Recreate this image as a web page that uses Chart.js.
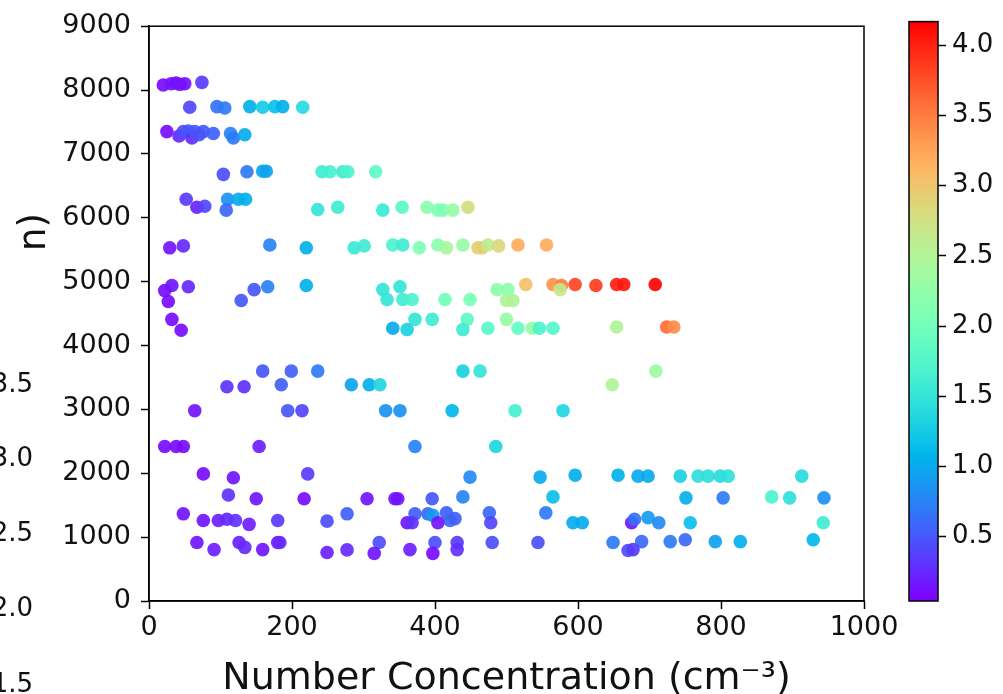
<!DOCTYPE html>
<html lang="en">
<head>
  <meta charset="UTF-8">
  <title>Number Concentration</title>
  <style>
    body {
      margin: 0;
      background: #fff;
      font-family: "DejaVu Sans", sans-serif;
    }
    #wrap {
      position: relative;
      width: 1003px;
      height: 694px;
      overflow: hidden;
    }
    canvas {
      position: absolute;
      top: 0;
    }
    .side {
      position: absolute;
      right: 970px;
      font-size: 26px;
      line-height: 26px;
      color: #111;
      white-space: nowrap;
    }
    #ylab {
      position: absolute;
      left: 32px;
      top: 232px;
      font-size: 37px;
      line-height: 37px;
      color: #111;
      transform: translate(-50%, -50%) rotate(-90deg);
      white-space: nowrap;
    }
  </style>
</head>
<body>
  <div id="wrap">
    <canvas id="main" width="1003" height="694" style="left:0"></canvas>
    <canvas id="cbar" width="123" height="694" style="left:880px"></canvas>
    <div id="ylab">n)</div>
    <div class="side" style="top:370px">3.5</div>
    <div class="side" style="top:444px">3.0</div>
    <div class="side" style="top:519px">2.5</div>
    <div class="side" style="top:594px">2.0</div>
    <div class="side" style="top:670px">1.5</div>
  </div>

  <script src="https://cdn.jsdelivr.net/npm/chart.js"></script>
  <script>
    // number concentration (cm^-3), height and colour value for each sample
    const numConc = [
      20, 31, 38, 43, 50, 74,
      57, 95, 106, 141, 159, 176, 187, 215,
      25, 42, 48, 55, 60, 64, 70, 76, 90, 114, 118, 134,
      104, 137, 159, 164, 242, 253, 271, 278, 317,
      52, 110, 125, 135, 67, 78, 108, 236, 264, 327, 354, 389, 404, 411, 425, 446,
      29, 48, 169, 220, 287, 301, 341, 355, 378, 404, 416, 439, 460, 466, 474, 489, 516, 556,
      22, 32, 55, 129, 147, 166, 220, 327, 351, 487, 502, 527, 565, 577, 575, 596, 625, 654, 664, 708,
      27, 333, 355, 368, 414, 449, 500, 509,
      32, 372, 396, 445, 500,
      45, 341, 361, 439, 474, 516, 536, 546, 565, 654, 724, 734,
      159, 199, 236, 439, 463, 709,
      109, 133, 185, 283, 308, 323, 648,
      64, 194, 214, 331, 351, 424, 512, 579,
      22, 38, 48, 154, 372, 485,
      76, 118, 222, 449, 547, 596, 656, 684, 698, 743, 768, 782, 799, 810, 913,
      111, 150, 217, 305, 344, 348, 396, 439, 565, 751, 803, 871, 896, 944,
      48, 76, 97, 109, 121, 140, 180, 249, 277, 372, 390, 397, 416, 421, 428, 476, 555,
      361, 368, 404, 478, 593, 606, 675, 679, 698, 713, 757, 943,
      67, 126, 180, 183, 322, 400, 431, 480, 544, 649, 689, 729, 750, 792, 827, 929,
      91, 134, 159, 249, 277, 315, 365, 397, 431, 670, 677
    ];
    const heightM = [
      8080, 8100, 8110, 8090, 8100, 8120,
      7730, 7740, 7720, 7740, 7730, 7740, 7740, 7730,
      7350, 7280, 7350, 7360, 7250, 7350, 7300, 7350, 7320, 7320, 7250, 7300,
      6680, 6720, 6730, 6730, 6720, 6720, 6720, 6720, 6720,
      6290, 6290, 6290, 6290, 6165, 6180, 6120, 6130, 6165, 6120, 6165, 6165, 6120, 6120, 6120, 6165,
      5530, 5560, 5575, 5530, 5530, 5560, 5575, 5575, 5530, 5575, 5530, 5575, 5530, 5530, 5575, 5560, 5575, 5575,
      4860, 4940, 4920, 4705, 4875, 4920, 4940, 4875, 4920, 4875, 4875, 4955, 4955, 4940, 4875, 4955, 4940, 4955, 4955, 4955,
      4690, 4720, 4720, 4720, 4720, 4720, 4705, 4705,
      4410, 4410, 4410, 4410, 4410,
      4240, 4270, 4250, 4250, 4270, 4270, 4270, 4270, 4270, 4290, 4290, 4290,
      3600, 3600, 3600, 3600, 3600, 3600,
      3355, 3355, 3385, 3385, 3385, 3385, 3385,
      2980, 2980, 2980, 2980, 2980, 2980, 2980, 2980,
      2420, 2420, 2420, 2420, 2420, 2420,
      1990, 1930, 1990, 1940, 1940, 1970, 1970, 1955, 1955, 1955, 1955, 1955, 1955, 1955, 1955,
      1660, 1600, 1600, 1600, 1600, 1600, 1600, 1630, 1630, 1615, 1615, 1630, 1615, 1615,
      1365, 1260, 1260, 1280, 1260, 1200, 1260, 1250, 1365, 1365, 1365, 1340, 1380, 1260, 1290, 1380, 1380,
      1225, 1225, 1225, 1225, 1225, 1225, 1225, 1280, 1305, 1225, 1225, 1225,
      915, 915, 915, 915, 915, 915, 915, 915, 915, 915, 930, 930, 960, 930, 930, 960,
      805, 840, 805, 760, 800, 745, 805, 745, 805, 790, 805
    ];
    const colorVal = [
      0.10, 0.15, 0.10, 0.15, 0.12, 0.35,
      0.40, 0.65, 0.70, 1.05, 1.25, 1.15, 1.05, 1.40,
      0.10, 0.25, 0.45, 0.50, 0.30, 0.50, 0.45, 0.50, 0.55, 0.75, 0.70, 1.00,
      0.45, 0.70, 0.95, 0.95, 1.60, 1.65, 1.60, 1.70, 1.85,
      0.35, 0.85, 1.00, 1.05, 0.20, 0.40, 0.60, 1.50, 1.60, 1.55, 1.80, 2.20, 2.10, 2.10, 2.30, 2.80,
      0.15, 0.25, 0.75, 1.05, 1.55, 1.60, 1.70, 1.60, 2.10, 2.20, 2.40, 2.30, 2.90, 2.95, 2.60, 2.85, 3.20, 3.20,
      0.10, 0.15, 0.25, 0.50, 0.50, 0.75, 1.05, 1.50, 1.50, 2.20, 2.20, 3.05, 3.35, 3.50, 2.65, 3.80, 3.85, 4.00, 4.05, 4.15,
      0.10, 1.50, 1.60, 1.70, 2.00, 2.05, 2.50, 2.50,
      0.10, 1.50, 1.60, 1.85, 2.30,
      0.10, 1.00, 1.30, 1.60, 1.80, 1.90, 2.30, 1.70, 1.75, 2.50, 3.60, 3.40,
      0.50, 0.55, 0.70, 1.30, 1.50, 2.35,
      0.30, 0.30, 0.55, 0.95, 1.05, 1.35, 2.50,
      0.15, 0.50, 0.40, 0.85, 0.85, 1.10, 1.65, 1.35,
      0.10, 0.10, 0.10, 0.20, 0.75, 1.35,
      0.10, 0.15, 0.35, 0.80, 1.00, 1.05, 1.05, 1.00, 1.00, 1.30, 1.45, 1.45, 1.40, 1.45, 1.40,
      0.30, 0.15, 0.10, 0.15, 0.15, 0.15, 0.50, 0.75, 1.15, 1.05, 0.70, 1.70, 1.45, 0.85,
      0.15, 0.15, 0.20, 0.25, 0.30, 0.20, 0.35, 0.45, 0.55, 0.55, 0.60, 0.90, 0.55, 0.60, 0.55, 0.60, 0.70,
      0.15, 0.30, 0.15, 0.40, 1.00, 1.00, 0.15, 0.65, 0.90, 0.80, 1.15, 1.60,
      0.15, 0.20, 0.20, 0.25, 0.45, 0.45, 0.35, 0.45, 0.45, 0.70, 0.60, 0.70, 0.60, 0.95, 1.05, 1.10,
      0.20, 0.25, 0.15, 0.20, 0.25, 0.15, 0.20, 0.10, 0.30, 0.45, 0.35
    ];

    const xTicks = [0, 200, 400, 600, 800, 1000];
    const yTicks = [0, 1000, 2000, 3000, 4000, 5000, 6000, 7000, 8000, 9000];
    const cbTicks = [0.5, 1.0, 1.5, 2.0, 2.5, 3.0, 3.5, 4.0];
    const cbMin = 0.04;
    const cbMax = 4.17;

    const FONT = 'DejaVu Sans';

    // matplotlib 'rainbow' colormap
    function rainbow(t, alpha) {
      t = Math.max(0, Math.min(1, t));
      const r = Math.min(1, Math.abs(2 * t - 0.5));
      const g = Math.sin(Math.PI * t);
      const b = Math.cos(Math.PI * t / 2);
      const a = alpha === undefined ? 1 : alpha;
      return `rgba(${Math.round(r * 255)}, ${Math.round(g * 255)}, ${Math.round(b * 255)}, ${a})`;
    }
    const norm = v => (v - cbMin) / (cbMax - cbMin);

    const points = numConc.map((x, i) => ({ x: x, y: heightM[i] }));
    const pointColors = colorVal.map(v => rainbow(norm(v), 0.92));

    const frame = {
      id: 'frame',
      afterDraw(chart) {
        const { ctx, chartArea: a } = chart;
        ctx.save();
        ctx.strokeStyle = '#000';
        ctx.lineWidth = 1.5;
        ctx.strokeRect(a.left, a.top, a.right - a.left, a.bottom - a.top);
        ctx.restore();
      }
    };

    new Chart(document.getElementById('main'), {
      type: 'scatter',
      data: {
        datasets: [{
          data: points,
          pointRadius: 6.8,
          pointHoverRadius: 6.8,
          pointBackgroundColor: pointColors,
          pointBorderColor: pointColors,
          pointBorderWidth: 0
        }]
      },
      options: {
        responsive: false,
        animation: false,
        layout: { padding: { left: 0, right: 139, top: 21, bottom: 0 } },
        plugins: { legend: { display: false }, tooltip: { enabled: false } },
        scales: {
          x: {
            type: 'linear',
            min: 0,
            max: 1000,
            afterBuildTicks: s => { s.ticks = xTicks.map(v => ({ value: v })); },
            afterFit: s => { s.height = 93; },
            ticks: {
              font: { family: FONT, size: 27 },
              color: '#111',
              padding: 3,
              maxRotation: 0,
              callback: v => String(v)
            },
            grid: { drawOnChartArea: false, tickLength: 8, color: '#000', tickWidth: 1.5 },
            border: { color: '#000', width: 1.5 },
            title: {
              display: true,
              text: 'Number Concentration (cm⁻³)',
              font: { family: FONT, size: 38 },
              color: '#111',
              padding: { top: 0, bottom: -8 }
            }
          },
          y: {
            type: 'linear',
            min: 0,
            max: 9000,
            afterBuildTicks: s => { s.ticks = yTicks.map(v => ({ value: v })); },
            afterFit: s => { s.width = 149; },
            ticks: {
              font: { family: FONT, size: 27 },
              color: '#111',
              padding: 10,
              callback: v => String(v)
            },
            grid: { drawOnChartArea: false, tickLength: 8, color: '#000', tickWidth: 1.5 },
            border: { color: '#000', width: 1.5 }
          }
        }
      },
      plugins: [frame]
    });

    // colour bar: gradient filled along the bar's own value scale
    const cbarFill = {
      id: 'cbarFill',
      beforeDatasetsDraw(chart) {
        const { ctx, chartArea: a } = chart;
        const ys = chart.scales.y;
        const grad = ctx.createLinearGradient(0, ys.getPixelForValue(cbMin), 0, ys.getPixelForValue(cbMax));
        for (let i = 0; i <= 40; i++) {
          grad.addColorStop(i / 40, rainbow(i / 40));
        }
        ctx.save();
        ctx.fillStyle = grad;
        ctx.fillRect(a.left, a.top, a.right - a.left, a.bottom - a.top);
        ctx.strokeStyle = '#000';
        ctx.lineWidth = 1.5;
        ctx.strokeRect(a.left, a.top, a.right - a.left, a.bottom - a.top);
        ctx.restore();
      }
    };

    new Chart(document.getElementById('cbar'), {
      type: 'scatter',
      data: { datasets: [{ data: [] }] },
      options: {
        responsive: false,
        animation: false,
        layout: { padding: { left: 29, right: 0, top: 19, bottom: 93 } },
        plugins: { legend: { display: false }, tooltip: { enabled: false } },
        scales: {
          x: { display: false, min: 0, max: 1 },
          y: {
            position: 'right',
            min: cbMin,
            max: cbMax,
            afterBuildTicks: s => { s.ticks = cbTicks.map(v => ({ value: v })); },
            afterFit: s => { s.width = 65; },
            ticks: {
              font: { family: FONT, size: 26 },
              color: '#111',
              padding: 6,
              callback: v => v.toFixed(1)
            },
            grid: { drawOnChartArea: false, tickLength: 8, color: '#000', tickWidth: 1.5 },
            border: { display: false }
          }
        }
      },
      plugins: [cbarFill]
    });
  </script>
</body>
</html>
